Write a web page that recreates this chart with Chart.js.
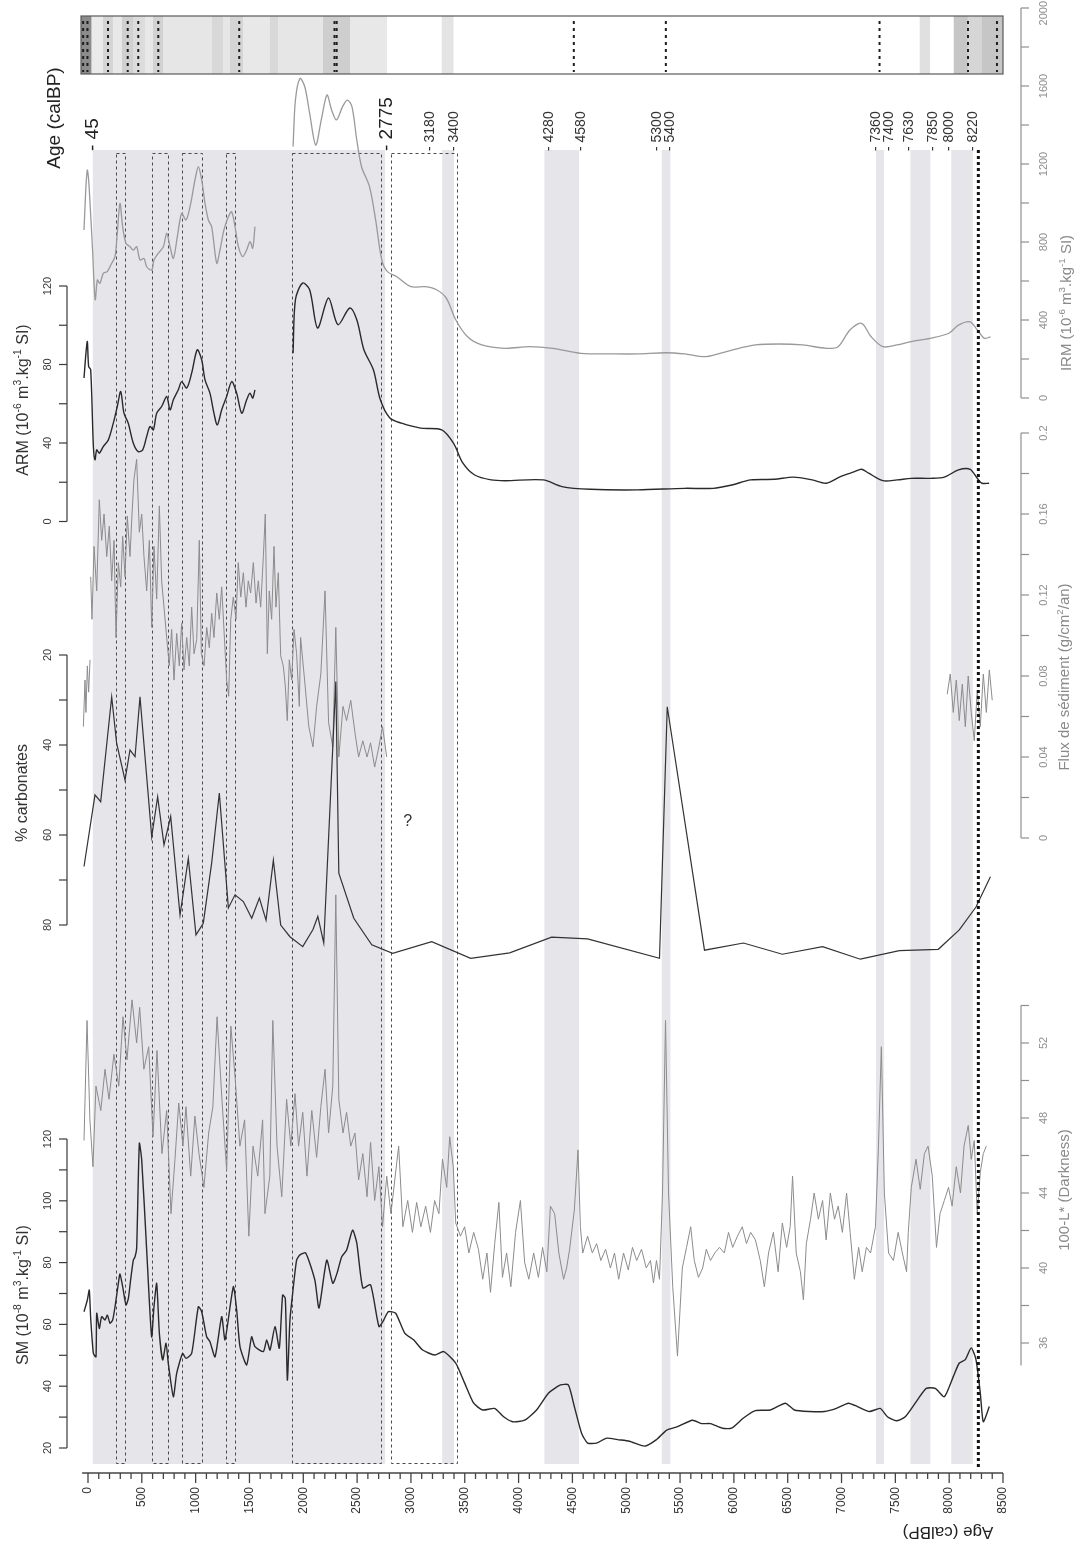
<!DOCTYPE html>
<html>
<head>
<meta charset="UTF-8">
<title>Age (calBP) - SM, 100-L*, carbonates, flux, ARM, IRM</title>
<script src="https://cdn.jsdelivr.net/npm/chart.js"></script>
<style>
  html, body { margin: 0; padding: 0; background: #fff; overflow: hidden; }
  #wrap { width: 1078px; height: 1544px; position: relative; }
</style>
</head>
<body>
<div id="wrap"><canvas id="chart" width="1078" height="1544"></canvas></div>
<script>
// ---------- data (age in cal BP) ----------
const smAge = [-37,-6,12,25,50,74,81,105,127,158,180,204,229,251,282,297,322,353,375,396,421,437,452,477,499,545,591,613,638,663,694,725,746,793,824,879,910,963,1025,1056,1102,1133,1180,1242,1273,1350,1381,1412,1474,1520,1551,1629,1660,1691,1737,1777,1808,1833,1852,1876,1901,1938,1969,2023,2107,2146,2218,2274,2313,2357,2402,2458,2497,2553,2625,2703,2747,2791,2858,2942,3025,3109,3221,3304,3416,3499,3583,3667,3777,3861,3944,4056,4167,4279,4390,4462,4518,4585,4641,4725,4819,4919,5030,5170,5281,5376,5476,5615,5699,5783,5894,5978,6089,6200,6339,6478,6562,6701,6841,6952,7064,7148,7259,7359,7426,7509,7592,7704,7787,7871,7955,8038,8094,8150,8205,8249,8289,8317,8373];
const smVal = [64.1,67.9,71.1,62,50.6,49.5,63.6,58.7,62.5,61.4,63,60.4,61.4,65.7,73.3,76.3,72.2,66.3,68.4,74.4,80.8,81.9,84.6,118.6,113.2,84.1,56,65.7,73.3,57.1,48.5,53.9,47.4,36.6,44.2,50.6,49,50.6,65.7,64.1,56,54.4,49.5,62.5,55,72.2,64.7,52.8,46.9,56,52.8,51.2,55,51.7,59.3,52.3,69.5,68.4,42,61.4,70,80.8,82.5,83.1,74.4,65.3,80.8,73.3,76.5,81.9,84,90.5,86.3,71.8,72.8,59.3,61.4,64.1,63.6,57.2,55,51.7,50.1,51.2,47.5,41,34.5,32.3,32.8,30.1,28.5,29,32.3,37.8,40.4,40.4,33.4,24.8,21.6,21.6,23.2,22.7,22.2,20.6,22.7,25.8,26.9,29,27.9,27.9,26.4,26.4,29.7,32.1,32.3,34.5,32.3,31.8,31.8,32.8,34.5,33.4,31.8,32.8,30.1,28.8,30.1,35.5,39.3,39.3,36.6,43.1,47.5,48.6,52.4,48.6,37.8,28.5,33.4];

const darkAge = [-37,-9,18,46,74,119,158,195,241,286,325,362,409,452,480,519,564,604,641,687,731,771,808,843,882,910,954,993,1031,1077,1121,1160,1199,1244,1288,1327,1366,1411,1455,1494,1533,1577,1622,1644,1689,1717,1756,1800,1845,1884,1923,1956,1995,2034,2079,2124,2163,2202,2235,2274,2302,2330,2369,2402,2441,2480,2514,2553,2592,2625,2663,2702,2736,2775,2814,2886,2925,2970,3014,3053,3092,3137,3181,3220,3260,3293,3332,3360,3393,3416,3460,3499,3538,3583,3627,3667,3706,3739,3778,3817,3850,3889,3928,3972,4017,4056,4095,4140,4184,4223,4262,4296,4335,4374,4418,4446,4474,4518,4552,4574,4596,4641,4685,4725,4764,4808,4853,4891,4930,4975,5019,5058,5097,5142,5186,5225,5253,5281,5309,5337,5365,5393,5432,5476,5521,5560,5599,5632,5671,5710,5744,5783,5822,5866,5911,5950,5989,6033,6078,6117,6156,6200,6245,6283,6322,6367,6411,6450,6490,6523,6545,6579,6618,6646,6673,6712,6746,6785,6824,6857,6896,6935,6969,7008,7047,7080,7119,7159,7192,7231,7270,7315,7343,7370,7398,7437,7482,7526,7565,7604,7620,7648,7692,7731,7770,7804,7843,7882,7915,7955,7994,8027,8066,8105,8138,8177,8205,8233,8261,8289,8317,8345];
const darkVal = [46.8,53.2,47.9,45.4,49.7,48.4,50.6,49,51.4,49.7,53.4,51.1,54.3,52,53.9,50.6,51.8,47,51.6,46.1,48.4,42.9,45.8,48.8,46.5,48.6,44.9,48.1,46.1,44.3,47.2,48.6,53.4,49,45.2,52.9,50.2,46.5,47.9,41.7,46.5,44.9,47.9,42.9,44.9,53.2,46.5,43.8,49,46.5,49.3,46.5,48.3,44.9,48.4,45.9,48.6,50.6,47.2,49.7,59.9,49,47.2,48.3,46.5,47.2,44.7,46.1,43.8,46.7,43.6,45.4,42.2,44.9,42.9,46.5,42.2,43.6,41.9,43.5,42.2,43.3,41.9,43.6,42.9,45.8,44.3,47,45.4,42.4,41.7,42.2,40.8,41.9,41,39.4,40.8,38.7,41.3,43.5,39.5,40.8,39,41.9,43.6,40.3,39.4,40.8,39.5,41.1,39.8,43.3,42.9,40.8,39.4,40,41,43.1,46.3,42.2,40.8,41.7,40.8,41.3,40.4,41,40,40.8,39.4,40.8,39.9,41.1,40.4,41,40,40.4,39.2,40.4,39.4,44,53.2,44,39,35.3,40,41.1,42.2,40.4,39.5,40,41,40.4,40.8,41.1,40.8,41.9,41.1,41.7,42.2,41.3,41.9,41.5,40.4,39,40.8,41.9,39.8,42.4,41.1,42.2,44.9,40.8,39.8,38.3,41.3,42.6,44,42.6,43.6,41.5,44,42.6,43.3,41.9,44,41.9,39.4,41.1,39.8,41.1,40.8,42.2,46.5,51.8,44,40.8,40.4,41.9,40.8,39.8,41.9,44.3,45.8,44.2,46.1,46.5,44.9,41.1,42.9,43.6,44.3,43.3,45.4,44,46.5,47.6,45.8,46.8,42.9,45.1,46.1,46.5];

const carbAge = [-37,65,118,220,266,344,390,437,483,592,647,706,768,855,932,1003,1071,1149,1220,1304,1366,1443,1521,1592,1654,1722,1790,1876,1995,2090,2135,2190,2302,2330,2469,2636,2830,3193,3555,3917,4307,4641,5309,5381,5727,6089,6450,6824,7175,7537,7899,8094,8249,8383];
const carbVal = [67,51.1,52.6,29.3,39.6,47.8,41.1,42.6,29.3,60.4,51.5,62.2,55.9,77.8,65.2,82.2,79.6,66.2,50.7,76.2,73.3,74.8,78.5,74,78.9,65.6,80,82.6,84.8,81,78.1,84,25.9,68.5,78.5,84.4,86.3,83.7,87.4,86.2,82.7,83.1,87.4,31.5,85.6,84,86.5,84.8,87.6,85.7,85.4,81.1,76,69.3];

const fluxAgeA = [-43,-28,-19,-6,6,19];
const fluxValA = [0.055,0.078,0.062,0.085,0.072,0.088];
const fluxAgeB = [25,37,56,81,105,127,149,174,198,220,242,260,282,304,322,344,365,390,409,427,452,477,499,520,545,570,592,613,638,663,684,706,731,755,777,799,824,848,870,892,917,941,963,985,1010,1034,1053,1078,1103,1127,1149,1170,1196,1220,1242,1263,1288,1307,1326,1350,1375,1396,1419,1443,1468,1489,1511,1536,1561,1582,1604,1629,1647,1666,1684,1706,1728,1746,1768,1790,1814,1833,1851,1870,1892,1914,1938,1963,1975,2012,2051,2090,2124,2163,2202,2235,2274,2302,2330,2369,2402,2441,2480,2514,2553,2592,2625,2663,2702,2736,2775];
const fluxValB = [0.129,0.108,0.144,0.122,0.167,0.147,0.160,0.139,0.154,0.127,0.147,0.099,0.136,0.124,0.149,0.129,0.159,0.139,0.160,0.177,0.187,0.151,0.160,0.139,0.122,0.147,0.104,0.144,0.118,0.164,0.127,0.114,0.099,0.085,0.103,0.078,0.101,0.085,0.106,0.083,0.099,0.085,0.114,0.091,0.098,0.147,0.091,0.085,0.104,0.094,0.111,0.099,0.121,0.108,0.124,0.103,0.078,0.070,0.108,0.119,0.108,0.136,0.119,0.131,0.114,0.127,0.121,0.136,0.116,0.127,0.114,0.139,0.160,0.091,0.122,0.108,0.144,0.114,0.131,0.090,0.085,0.075,0.058,0.088,0.078,0.103,0.091,0.065,0.099,0.078,0.055,0.045,0.065,0.081,0.122,0.057,0.045,0.104,0.040,0.065,0.058,0.068,0.052,0.040,0.048,0.040,0.047,0.035,0.045,0.055,0.040];
const fluxAgeC = [7982,8010,8038,8066,8094,8122,8150,8177,8205,8233,8261,8289,8317,8345,8373,8400];
const fluxValC = [0.071,0.081,0.062,0.078,0.058,0.076,0.055,0.080,0.062,0.048,0.073,0.055,0.081,0.062,0.083,0.068];

const armAgeA = [-37,-19,-6,6,25,50,65,81,105,142,189,235,272,304,334,374,421,467,508,545,576,607,638,684,731,762,793,839,870,917,963,1015,1056,1087,1133,1170,1201,1242,1288,1335,1381,1428,1474,1505,1530,1551];
const armValA = [73.1,85.8,91.7,79,77.3,38.2,31.4,36.5,34.8,38.2,41.6,50.1,58.6,66.2,55.2,50.1,39.9,35.6,36.5,43.3,48.4,46.7,55.2,58.6,63.7,56.9,62,67.1,71.3,68,75.6,87.5,82.4,72.2,65.4,55.2,49.2,56.9,63.7,71.3,65.4,55.2,62,65.4,62.9,67.1];
const armAgeB = [1905,1927,1993,2059,2133,2234,2322,2432,2497,2563,2651,2716,2804,2913,3089,3286,3395,3483,3592,3745,3877,4228,4403,4666,5104,5543,5806,5981,6157,6376,6552,6727,6858,6990,7122,7187,7253,7385,7516,7648,7823,7955,8086,8195,8261,8305,8371];
const armValB = [85.8,113,121.5,118.1,98.6,113.9,100.3,108.8,102.8,87.5,77.3,62,52.7,50.1,47.6,46.7,39.9,29.7,23.7,21.2,20.8,21.2,17.8,16.4,16.1,16.9,16.9,18.6,21.2,21.5,22.6,21.2,19.5,22.9,25.4,26.6,24.6,20.8,21.2,22,22,22.6,26.3,26.6,22,19.5,19.5];

const irmAgeA = [-37,-19,-6,6,19,44,56,68,87,111,142,179,220,251,272,297,322,353,390,421,452,483,520,545,592,613,653,700,731,762,793,830,870,910,948,994,1025,1056,1087,1118,1149,1196,1226,1263,1304,1335,1366,1397,1437,1474,1505,1530,1551];
const irmValA = [862,1084,1169,1118,998,742,588,503,605,588,639,648,691,725,845,998,878,793,776,759,776,708,716,673,656,708,742,776,845,776,716,827,947,913,981,1118,1186,1118,998,913,878,691,759,862,930,955,878,776,725,759,802,768,878];
const irmAgeB = [1905,1927,1970,2014,2059,2115,2167,2220,2263,2308,2365,2409,2452,2497,2541,2615,2672,2729,2781,2869,3000,3132,3242,3330,3417,3526,3658,3877,4097,4316,4579,4886,5104,5367,5543,5741,5981,6201,6420,6639,6858,6968,7078,7187,7275,7385,7516,7648,7823,7998,8086,8195,8261,8327,8384];
const irmValB = [1289,1528,1639,1596,1460,1297,1426,1554,1477,1426,1494,1528,1494,1323,1186,1084,913,708,648,622,571,571,554,511,400,314,272,255,263,255,229,226,226,232,226,212,246,272,277,272,255,263,349,383,314,263,272,289,306,332,374,391,349,306,314];

// shaded intervals, dashed windows, dated levels
const bandStart = [45, 3290, 4240, 5330, 7320, 7640, 8020];
const bandEnd   = [2760, 3400, 4560, 5410, 7395, 7825, 8220];
const boxStart = [262, 598, 874, 1281, 1899, 2812];
const boxEnd   = [342, 742, 1056, 1367, 2722, 3426];
const limitAge = 8271;
const markAges = [45, 2775, 3180, 3400, 4280, 4580, 5300, 5400, 7360, 7400, 7630, 7850, 8000, 8220];
const markBig  = [45, 2775];

// top strip: shades and dashed levels
const stripStart = [-65, 34, 139, 232, 316, 418, 530, 604, 697, 1152, 1254, 1319, 1440, 1691, 1765, 2183, 2434, 3286, 7726, 8042, 8174, 8305];
const stripEnd   = [34, 139, 232, 316, 418, 530, 604, 697, 1152, 1254, 1319, 1440, 1691, 1765, 2183, 2434, 2778, 3395, 7823, 8174, 8305, 8500];
const stripGrey  = [140, 234, 212, 232, 208, 220, 232, 210, 230, 216, 230, 212, 232, 216, 230, 206, 232, 228, 224, 198, 214, 198];
const stripDash  = [-45, -5, 186, 369, 467, 653, 1405, 2290, 2310, 4513, 5368, 7353, 8175, 8444];

const ageTicks = [0,500,1000,1500,2000,2500,3000,3500,4000,4500,5000,5500,6000,6500,7000,7500,8000,8500];

// ---------- layout helpers ----------
const W = 1078, H = 1544;
const FONT = '"Liberation Sans", Arial, Helvetica, sans-serif';

// value range of a hidden full-height axis so that v0 lands on pixel p0 and v1 on p1
function yRange(v0, p0, v1, p1) {
    const k = (p1 - p0) / (v1 - v0);
    const top = v0 - p0 / k;
    const bot = v0 + (H - p0) / k;
    return k < 0 ? { min: bot, max: top, reverse: false } : { min: top, max: bot, reverse: true };
}

function pts(ages, vals) {
    return ages.map((a, i) => ({ x: a, y: vals[i] }));
}

function line(ages, vals, axis, color, width, tension) {
    return {
        data: pts(ages, vals), yAxisID: axis, borderColor: color, borderWidth: width,
        pointRadius: 0, tension: tension, fill: false
    };
}

function txt(ctx, s, x, y, angle, size, color, align) {
    ctx.save();
    ctx.translate(x, y);
    ctx.rotate(angle);
    ctx.font = size + 'px ' + FONT;
    ctx.fillStyle = color;
    ctx.textAlign = align || 'center';
    ctx.textBaseline = 'middle';
    ctx.fillText(s, 0, 0);
    ctx.restore();
}

// text with superscripts, parts starting with ^ are raised
function rich(ctx, parts, cx, cy, angle, size, color) {
    ctx.save();
    ctx.translate(cx, cy);
    ctx.rotate(angle);
    ctx.fillStyle = color;
    ctx.textAlign = 'left';
    ctx.textBaseline = 'alphabetic';
    const segs = parts.map(p => p[0] === '^' ? { t: p.slice(1), sup: true } : { t: p, sup: false });
    let total = 0;
    segs.forEach(s => {
        ctx.font = (s.sup ? size * 0.65 : size) + 'px ' + FONT;
        s.w = ctx.measureText(s.t).width;
        total += s.w;
    });
    let x = -total / 2;
    const base = size * 0.36;
    segs.forEach(s => {
        ctx.font = (s.sup ? size * 0.65 : size) + 'px ' + FONT;
        ctx.fillText(s.t, x, s.sup ? base - size * 0.42 : base);
        x += s.w;
    });
    ctx.restore();
}

const axisDefs = [
    { id: 'yARM',  side: 'left',  from: 0,  to: 120,  step: 20,   every: 40 },
    { id: 'yCarb', side: 'left',  from: 20, to: 80,   step: 10,   every: 20 },
    { id: 'ySM',   side: 'left',  from: 20, to: 120,  step: 10,   every: 20 },
    { id: 'yIRM',  side: 'right', from: 0,  to: 2000, step: 200,  every: 400 },
    { id: 'yFlux', side: 'right', from: 0,  to: 0.2,  step: 0.02, every: 0.04 },
    { id: 'yDark', side: 'right', from: 36, to: 54,   step: 2,    every: 4, lineFrom: 34.8 }
];

function drawAxis(ctx, scale, d) {
    const left = d.side === 'left';
    const ax = left ? 67 : 1021;
    const col = left ? '#3a3a3a' : '#8f8f8f';
    ctx.save();
    ctx.strokeStyle = col;
    ctx.lineWidth = 1.2;
    ctx.beginPath();
    ctx.moveTo(ax, scale.getPixelForValue(d.lineFrom !== undefined ? d.lineFrom : d.from));
    ctx.lineTo(ax, scale.getPixelForValue(d.to));
    ctx.stroke();
    const n = Math.round((d.to - d.from) / d.step);
    ctx.font = '11px ' + FONT;
    for (let i = 0; i <= n; i++) {
        const v = d.from + i * d.step;
        const y = scale.getPixelForValue(v);
        ctx.beginPath();
        ctx.moveTo(ax, y);
        ctx.lineTo(left ? ax - 8 : ax + 8, y);
        ctx.stroke();
        const r = (v - d.from) / d.every;
        if (Math.abs(r - Math.round(r)) < 1e-6) {
            const s = v === 0 ? '0' : String(+v.toFixed(2));
            // keep the label inside the page
            const half = ctx.measureText(s).width / 2;
            const ly = Math.max(y, half + 1);
            txt(ctx, s, left ? 48 : 1044, ly, -Math.PI / 2, 11, col);
        }
    }
    ctx.restore();
}

const decor = {
    id: 'decor',
    beforeDatasetsDraw(chart) {
        const ctx = chart.ctx;
        const X = a => chart.scales.x.getPixelForValue(a);
        ctx.save();
        // shaded intervals
        ctx.fillStyle = 'rgb(229,229,234)';
        bandStart.forEach((a, i) => ctx.fillRect(X(a), 150, X(bandEnd[i]) - X(a), 1464 - 150));
        // dashed windows
        ctx.strokeStyle = '#4a4a4a';
        ctx.lineWidth = 1;
        ctx.setLineDash([3, 3]);
        boxStart.forEach((a, i) => ctx.strokeRect(Math.round(X(a)) + 0.5, 153.5, Math.round(X(boxEnd[i]) - X(a)), 1463 - 153));
        ctx.setLineDash([]);

        // top strip
        stripStart.forEach((a, i) => {
            const g = stripGrey[i];
            ctx.fillStyle = 'rgb(' + g + ',' + g + ',' + g + ')';
            ctx.fillRect(X(a), 16, X(stripEnd[i]) - X(a), 58);
        });
        ctx.strokeStyle = '#1e1e1e';
        ctx.lineWidth = 2;
        ctx.setLineDash([3, 4]);
        stripDash.forEach(a => {
            ctx.beginPath();
            ctx.moveTo(X(a), 21);
            ctx.lineTo(X(a), 72);
            ctx.stroke();
        });
        ctx.setLineDash([]);
        ctx.strokeStyle = '#5a5a5a';
        ctx.lineWidth = 1.2;
        ctx.strokeRect(X(-65), 16, X(8500) - X(-65), 58);
        ctx.restore();
    },
    afterDatasetsDraw(chart) {
        const ctx = chart.ctx;
        const sc = chart.scales;
        const X = a => sc.x.getPixelForValue(a);
        ctx.save();

        // heavy dotted limit
        ctx.strokeStyle = '#111';
        ctx.lineWidth = 3;
        ctx.setLineDash([3, 3]);
        ctx.beginPath();
        ctx.moveTo(X(limitAge), 150);
        ctx.lineTo(X(limitAge), 1468);
        ctx.stroke();
        ctx.setLineDash([]);

        // dated levels, spread apart when too close
        const px = markAges.map(X);
        for (let pass = 0; pass < 4; pass++) {
            for (let i = 1; i < px.length; i++) {
                const gap = px[i] - px[i - 1];
                if (gap < 13) {
                    const m = (13 - gap) / 2;
                    px[i - 1] -= m;
                    px[i] += m;
                }
            }
        }
        markAges.forEach((a, i) => {
            const big = markBig.includes(a);
            txt(ctx, '- ' + a, px[i], 151, -Math.PI / 2, big ? 19 : 14, big ? '#222' : '#333', 'left');
        });

        // age axis
        ctx.strokeStyle = '#444';
        ctx.lineWidth = 1.3;
        ctx.beginPath();
        ctx.moveTo(X(-55), 1473);
        ctx.lineTo(X(8500), 1473);
        ctx.stroke();
        for (let a = 0; a <= 8500; a += 100) {
            ctx.beginPath();
            ctx.moveTo(X(a), 1473);
            ctx.lineTo(X(a), 1473 + (a % 500 === 0 ? 10 : 6));
            ctx.stroke();
        }
        ageTicks.forEach(a => txt(ctx, String(a), X(a), 1487, -Math.PI / 2, 12, '#333', 'right'));
        txt(ctx, 'Age (calBP)', 948, 1532, Math.PI, 17, '#222');

        // value axes
        axisDefs.forEach(d => drawAxis(ctx, sc[d.id], d));

        // axis titles
        const up = -Math.PI / 2;
        txt(ctx, 'Age (calBP)', 55, 118, up, 19, '#222');
        rich(ctx, ['ARM (10', '^-6', ' m', '^3', '.kg', '^-1', ' SI)'], 22, 400, up, 16, '#333');
        rich(ctx, ['% carbonates'], 21, 793, up, 16, '#333');
        rich(ctx, ['SM (10', '^-8', ' m', '^3', '.kg', '^-1', ' SI)'], 22, 1295, up, 16, '#333');
        rich(ctx, ['IRM (10', '^-6', ' m', '^3', '.kg', '^-1', ' SI)'], 1066, 303, up, 15, '#8a8a8a');
        rich(ctx, ['Flux de sédiment (g/cm', '^2', '/an)'], 1064, 677, up, 15, '#8a8a8a');
        rich(ctx, ['100-L* (Darkness)'], 1064, 1190, up, 15, '#8a8a8a');

        // unknown carbonate level
        txt(ctx, '?', X(2970), sc.yCarb.getPixelForValue(57), 0, 16, '#333');
        ctx.restore();
    }
};

new Chart(document.getElementById('chart'), {
    type: 'line',
    data: {
        datasets: [
            line(smAge, smVal, 'ySM', '#2a2a2a', 1.4, 0.2),
            line(carbAge, carbVal, 'yCarb', '#333', 1.2, 0),
            line(armAgeA, armValA, 'yARM', '#2a2a2a', 1.4, 0.3),
            line(armAgeB, armValB, 'yARM', '#2a2a2a', 1.4, 0.3),
            line(irmAgeA, irmValA, 'yIRM', '#9a9a9a', 1.3, 0.3),
            line(irmAgeB, irmValB, 'yIRM', '#9a9a9a', 1.3, 0.3),
            line(darkAge, darkVal, 'yDark', '#8c8c8c', 1, 0),
            line(fluxAgeA, fluxValA, 'yFlux', '#8c8c8c', 1, 0),
            line(fluxAgeB, fluxValB, 'yFlux', '#8c8c8c', 1, 0),
            line(fluxAgeC, fluxValC, 'yFlux', '#8c8c8c', 1, 0)
        ]
    },
    options: {
        responsive: false,
        animation: false,
        devicePixelRatio: 1,
        events: [],
        layout: { padding: { left: 81, right: 75, top: 0, bottom: 0 } },
        plugins: { legend: { display: false }, tooltip: { enabled: false } },
        scales: {
            x: { type: 'linear', min: -65, max: 8500, display: false },
            ySM:   Object.assign({ type: 'linear', display: false }, yRange(20, 1448, 120, 1139)),
            yDark: Object.assign({ type: 'linear', display: false }, yRange(36, 1343, 52, 1043)),
            yCarb: Object.assign({ type: 'linear', display: false }, yRange(20, 655, 80, 925)),
            yFlux: Object.assign({ type: 'linear', display: false }, yRange(0, 838, 0.16, 514)),
            yARM:  Object.assign({ type: 'linear', display: false }, yRange(0, 521.5, 120, 286)),
            yIRM:  Object.assign({ type: 'linear', display: false }, yRange(0, 398, 2000, 8))
        }
    },
    plugins: [decor]
});
</script>
</body>
</html>
